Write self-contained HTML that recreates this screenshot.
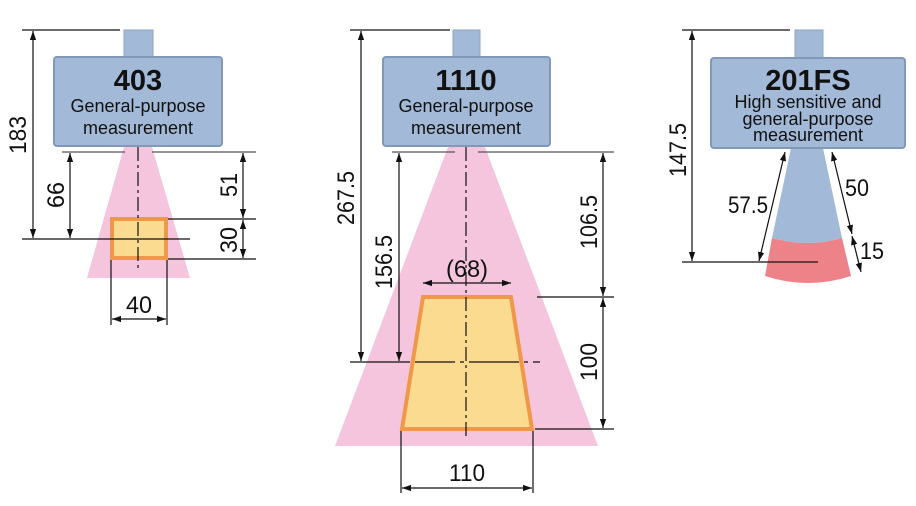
<!DOCTYPE html>
<html><head><meta charset="utf-8"><style>
html,body{margin:0;padding:0;background:#fff;width:916px;height:506px;overflow:hidden}
svg{display:block}
.t{font-family:"Liberation Sans",sans-serif;font-size:24px;fill:#111}
.h{font-family:"Liberation Sans",sans-serif;font-weight:bold;font-size:29px;fill:#111}
.s{font-family:"Liberation Sans",sans-serif;font-size:18px;fill:#111}
.l{stroke:#111;stroke-width:1.2;fill:none}
.g{stroke:#555;stroke-width:1.2;fill:none}
.c{stroke:#111;stroke-width:1.2;fill:none;stroke-dasharray:14 4 3 4}
</style></head><body>
<svg width="916" height="506" viewBox="0 0 916 506" xmlns="http://www.w3.org/2000/svg">
<defs>
<marker id="a" viewBox="0 0 10 10" refX="10" refY="5" markerWidth="9" markerHeight="9" orient="auto-start-reverse" markerUnits="userSpaceOnUse"><path d="M0,1.5 L10,5 L0,8.5 z" fill="#111"/></marker>
</defs>

<!-- ===== 403 ===== -->
<polygon points="124,147 152,147 190,278 87,278" fill="#f4c5dc"/>
<rect x="112" y="219" width="54" height="39" fill="#fbdb8f" stroke="#f0984a" stroke-width="4"/>
<rect x="124" y="30" width="29" height="30" fill="#a3b9d8" stroke="#8ea4c2"/>
<rect x="54" y="57" width="168" height="89" rx="3" fill="#a3b9d8" stroke="#8198b8" stroke-width="2"/>
<text class="h" x="138" y="90" text-anchor="middle">403</text>
<text class="s" x="138" y="112" text-anchor="middle">General-purpose</text>
<text class="s" x="138" y="134" text-anchor="middle">measurement</text>
<line class="c" x1="138" y1="147" x2="138" y2="272"/>
<line class="l" x1="22" y1="30" x2="120" y2="30"/>
<line class="l" x1="22" y1="239" x2="190" y2="239"/>
<line class="g" x1="62" y1="152" x2="125" y2="152"/>
<line class="g" x1="152" y1="152" x2="256" y2="152"/>
<line class="l" x1="168" y1="219" x2="256" y2="219"/>
<line class="l" x1="168" y1="259" x2="256" y2="259"/>
<line class="l" x1="33" y1="31" x2="33" y2="238" marker-start="url(#a)" marker-end="url(#a)"/>
<line class="l" x1="70" y1="153" x2="70" y2="238" marker-start="url(#a)" marker-end="url(#a)"/>
<line class="l" x1="243" y1="153" x2="243" y2="218" marker-start="url(#a)" marker-end="url(#a)"/>
<line class="l" x1="243" y1="220" x2="243" y2="258" marker-start="url(#a)" marker-end="url(#a)"/>
<line class="l" x1="111" y1="260" x2="111" y2="325"/>
<line class="l" x1="167" y1="260" x2="167" y2="325"/>
<line class="l" x1="112" y1="319" x2="166" y2="319" marker-start="url(#a)" marker-end="url(#a)"/>
<text class="t" x="139" y="313" text-anchor="middle" textLength="26" lengthAdjust="spacingAndGlyphs">40</text>
<text class="t" transform="translate(26,135) rotate(-90)" text-anchor="middle" textLength="38" lengthAdjust="spacingAndGlyphs">183</text>
<text class="t" transform="translate(64,195) rotate(-90)" text-anchor="middle" textLength="26" lengthAdjust="spacingAndGlyphs">66</text>
<text class="t" transform="translate(237,185) rotate(-90)" text-anchor="middle" textLength="24" lengthAdjust="spacingAndGlyphs">51</text>
<text class="t" transform="translate(237,240) rotate(-90)" text-anchor="middle" textLength="26" lengthAdjust="spacingAndGlyphs">30</text>

<!-- ===== 1110 ===== -->
<polygon points="448,147 485,147 598,446 335,446" fill="#f4c5dc"/>
<polygon points="423,297 511,297 532,429 402,429" fill="#fbdb8f" stroke="#f0984a" stroke-width="4" stroke-linejoin="miter"/>
<rect x="453" y="30" width="27" height="30" fill="#a3b9d8" stroke="#8ea4c2"/>
<rect x="383" y="57" width="167" height="89" rx="3" fill="#a3b9d8" stroke="#8198b8" stroke-width="2"/>
<text class="h" x="466" y="90" text-anchor="middle">1110</text>
<text class="s" x="466" y="112" text-anchor="middle">General-purpose</text>
<text class="s" x="466" y="134" text-anchor="middle">measurement</text>
<line class="c" x1="466" y1="147" x2="466" y2="436"/>
<line class="l" x1="350" y1="30" x2="450" y2="30"/>
<line class="l" x1="350" y1="362" x2="540" y2="362" stroke-dasharray="60 5 40 5 4 5 50 5 4 5 200"/>
<line class="g" x1="392" y1="152" x2="455" y2="152"/>
<line class="g" x1="478" y1="152" x2="614" y2="152"/>
<line class="l" x1="537" y1="297" x2="614" y2="297"/>
<line class="l" x1="535" y1="429" x2="614" y2="429"/>
<line class="l" x1="361" y1="31" x2="361" y2="361" marker-start="url(#a)" marker-end="url(#a)"/>
<line class="l" x1="399" y1="153" x2="399" y2="361" marker-start="url(#a)" marker-end="url(#a)"/>
<line class="l" x1="603" y1="153" x2="603" y2="296" marker-start="url(#a)" marker-end="url(#a)"/>
<line class="l" x1="603" y1="298" x2="603" y2="428" marker-start="url(#a)" marker-end="url(#a)"/>
<line class="l" x1="423" y1="283" x2="511" y2="283" marker-start="url(#a)" marker-end="url(#a)"/>
<text class="t" x="467" y="277" text-anchor="middle" textLength="42" lengthAdjust="spacingAndGlyphs">(68)</text>
<line class="l" x1="401" y1="431" x2="401" y2="493"/>
<line class="l" x1="533" y1="431" x2="533" y2="493"/>
<line class="l" x1="402" y1="488" x2="532" y2="488" marker-start="url(#a)" marker-end="url(#a)"/>
<text class="t" x="467" y="481" text-anchor="middle" textLength="36" lengthAdjust="spacingAndGlyphs">110</text>
<text class="t" transform="translate(354,198) rotate(-90)" text-anchor="middle" textLength="54" lengthAdjust="spacingAndGlyphs">267.5</text>
<text class="t" transform="translate(392,262) rotate(-90)" text-anchor="middle" textLength="54" lengthAdjust="spacingAndGlyphs">156.5</text>
<text class="t" transform="translate(597,222) rotate(-90)" text-anchor="middle" textLength="54" lengthAdjust="spacingAndGlyphs">106.5</text>
<text class="t" transform="translate(597,362) rotate(-90)" text-anchor="middle" textLength="38" lengthAdjust="spacingAndGlyphs">100</text>

<!-- ===== 201FS ===== -->
<path d="M791,148 L823,148 L842,238 Q808,248 772,238 Z" fill="#a3b9d8"/>
<path d="M772,238 Q808,248 842,238 L851,276 Q808,290 765,276 Z" fill="#ee8289"/>
<rect x="795" y="30" width="28" height="30" fill="#a3b9d8" stroke="#8ea4c2"/>
<rect x="711" y="58" width="194" height="90" rx="3" fill="#a3b9d8" stroke="#8198b8" stroke-width="2"/>
<text class="h" x="808" y="90" text-anchor="middle">201FS</text>
<text class="s" x="808" y="108" text-anchor="middle">High sensitive and</text>
<text class="s" x="808" y="125" text-anchor="middle">general-purpose</text>
<text class="s" x="808" y="141" text-anchor="middle">measurement</text>
<line class="l" x1="682" y1="30" x2="790" y2="30"/>
<line class="l" x1="682" y1="262" x2="818" y2="262"/>
<line class="l" x1="692" y1="31" x2="692" y2="261" marker-start="url(#a)" marker-end="url(#a)"/>
<line class="l" x1="785" y1="152" x2="759" y2="261" marker-start="url(#a)" marker-end="url(#a)"/>
<line class="l" x1="832" y1="152" x2="852" y2="234" marker-start="url(#a)" marker-end="url(#a)"/>
<line class="l" x1="852" y1="236" x2="861" y2="272" marker-start="url(#a)" marker-end="url(#a)"/>
<text class="t" transform="translate(686,150) rotate(-90)" text-anchor="middle" textLength="54" lengthAdjust="spacingAndGlyphs">147.5</text>
<text class="t" x="748" y="213" text-anchor="middle" textLength="40" lengthAdjust="spacingAndGlyphs">57.5</text>
<text class="t" x="857" y="196" text-anchor="middle" textLength="24" lengthAdjust="spacingAndGlyphs">50</text>
<text class="t" x="872" y="259" text-anchor="middle" textLength="24" lengthAdjust="spacingAndGlyphs">15</text>
</svg>
</body></html>
